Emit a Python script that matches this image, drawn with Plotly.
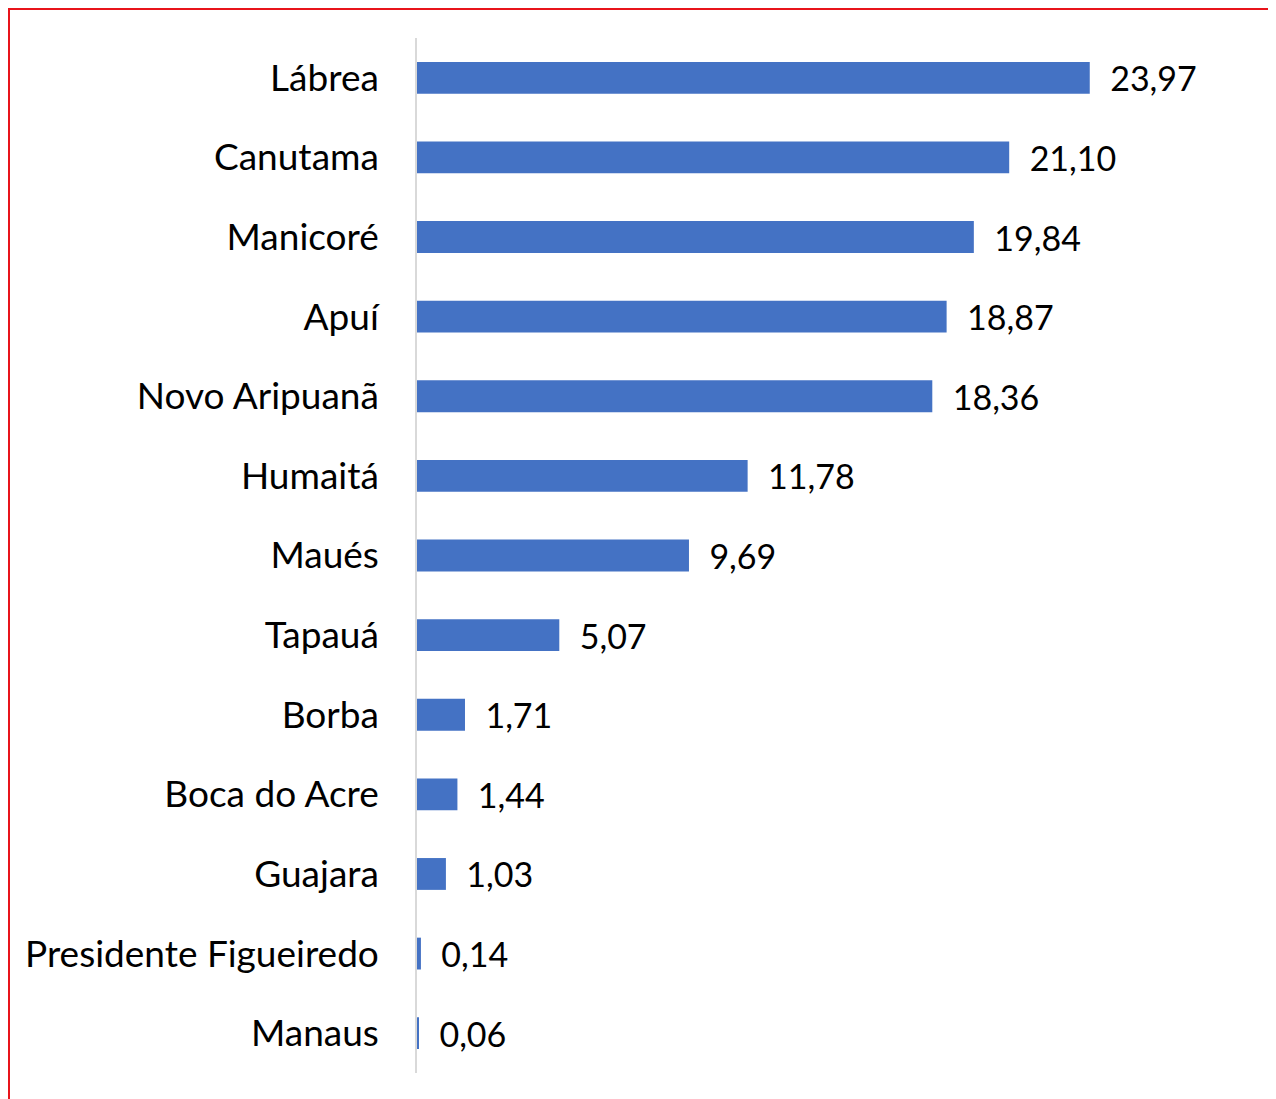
import plotly.graph_objects as go

municipios = ["Lábrea", "Canutama", "Manicoré", "Apuí", "Novo Aripuanã", "Humaitá",
              "Maués", "Tapauá", "Borba", "Boca do Acre", "Guajara",
              "Presidente Figueiredo", "Manaus"]
valores = [23.97, 21.10, 19.84, 18.87, 18.36, 11.78, 9.69, 5.07, 1.71, 1.44, 1.03, 0.14, 0.06]

# figure is placed at (8, 8) on the page by the default body margin
W, H = 1268, 1091
L, R, T, B = 409, 17, 30, 26
pw, ph = W - L - R, H - T - B

labels = ["\u00a0\u00a0" + f"{v:.2f}".replace(".", ",") for v in valores]

fig = go.Figure(go.Bar(
    x=valores, y=municipios, orientation="h",
    marker=dict(color="#4472C4", line=dict(width=0)),
    text=labels, textposition="outside", cliponaxis=False, constraintext="none",
    textfont=dict(size=34, color="black", family="Lato"),
    width=0.4,
))

# red frame (top and left edges visible)
fig.add_shape(type="rect", xref="paper", yref="paper",
              x0=(1 - L) / pw, x1=(W + 10 - L) / pw,
              y0=-(B + 10) / ph, y1=(H - B - 1) / ph,
              line=dict(color="#E8141B", width=2), fillcolor="rgba(0,0,0,0)", layer="below")

fig.update_layout(
    width=W, height=H,
    margin=dict(l=L, r=R, t=T, b=B),
    paper_bgcolor="white", plot_bgcolor="white",
    showlegend=False,
    font=dict(family="Lato", size=37, color="black"),
    xaxis=dict(range=[0, 30], visible=False, showgrid=False, zeroline=False),
    yaxis=dict(autorange="reversed", showline=True, linecolor="#D9D9D9", linewidth=1.5,
               showgrid=False, ticks="", ticklabelstandoff=29,
               tickfont=dict(size=37, color="black", family="Lato")),
    bargap=0.6,
)

fig.write_html("out.html")
